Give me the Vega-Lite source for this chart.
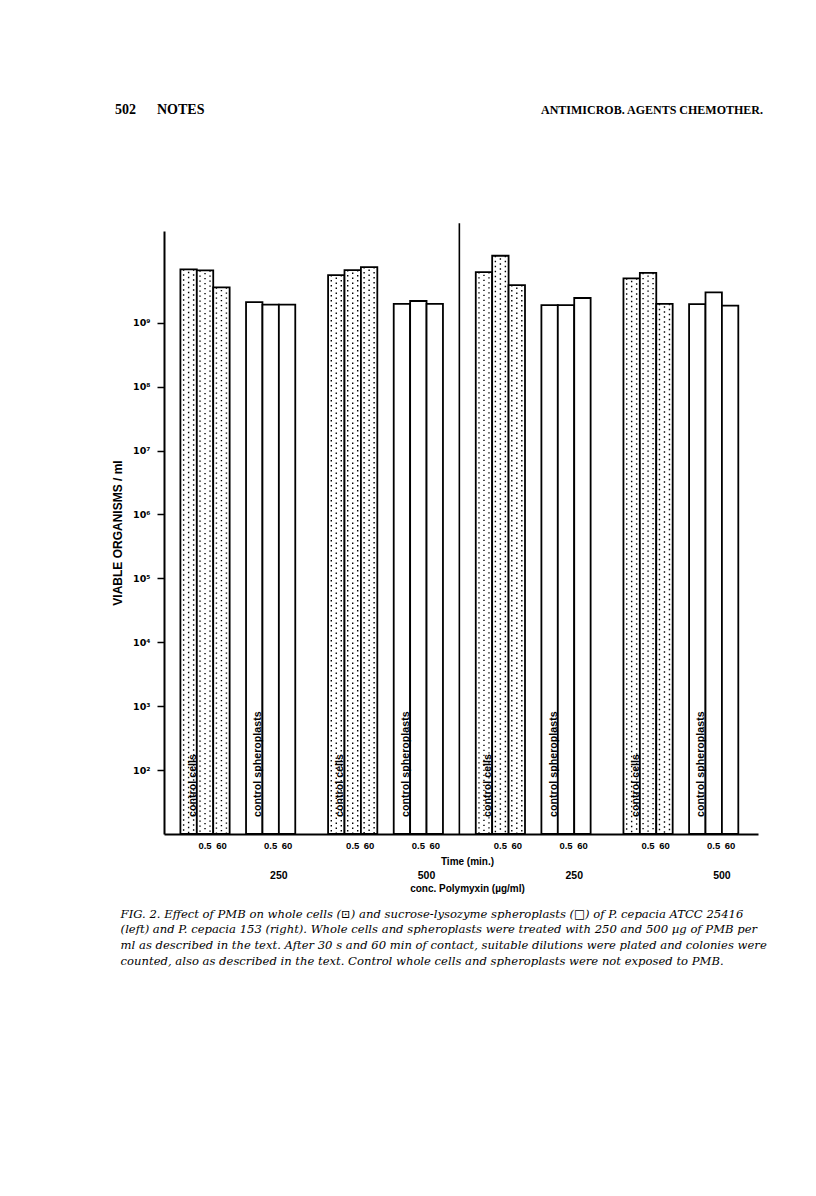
{
  "$schema": "https://vega.github.io/schema/vega-lite/v6.json",
  "background": "white",
  "padding": {"left": 111, "top": 102, "right": 10, "bottom": 10},
  "autosize": {"type": "pad"},
  "spacing": 104,
  "config": {"view": {"stroke": null}, "font": "Liberation Sans", "text": {"color": "black"}},
  "datasets": {
    "counts": [
      {"strain": "ATCC 25416", "conc": "250", "form": "cells", "time": "control", "value": 6.85e9},
      {"strain": "ATCC 25416", "conc": "250", "form": "cells", "time": "0.5", "value": 6.6e9},
      {"strain": "ATCC 25416", "conc": "250", "form": "cells", "time": "60", "value": 3.58e9},
      {"strain": "ATCC 25416", "conc": "250", "form": "spheroplasts", "time": "control", "value": 2.11e9},
      {"strain": "ATCC 25416", "conc": "250", "form": "spheroplasts", "time": "0.5", "value": 1.93e9},
      {"strain": "ATCC 25416", "conc": "250", "form": "spheroplasts", "time": "60", "value": 1.92e9},
      {"strain": "ATCC 25416", "conc": "500", "form": "cells", "time": "control", "value": 5.57e9},
      {"strain": "ATCC 25416", "conc": "500", "form": "cells", "time": "0.5", "value": 6.68e9},
      {"strain": "ATCC 25416", "conc": "500", "form": "cells", "time": "60", "value": 7.45e9},
      {"strain": "ATCC 25416", "conc": "500", "form": "spheroplasts", "time": "control", "value": 1.98e9},
      {"strain": "ATCC 25416", "conc": "500", "form": "spheroplasts", "time": "0.5", "value": 2.19e9},
      {"strain": "ATCC 25416", "conc": "500", "form": "spheroplasts", "time": "60", "value": 1.98e9},
      {"strain": "153", "conc": "250", "form": "cells", "time": "control", "value": 6.2e9},
      {"strain": "153", "conc": "250", "form": "cells", "time": "0.5", "value": 1.12e10},
      {"strain": "153", "conc": "250", "form": "cells", "time": "60", "value": 3.89e9},
      {"strain": "153", "conc": "250", "form": "spheroplasts", "time": "control", "value": 1.89e9},
      {"strain": "153", "conc": "250", "form": "spheroplasts", "time": "0.5", "value": 1.89e9},
      {"strain": "153", "conc": "250", "form": "spheroplasts", "time": "60", "value": 2.44e9},
      {"strain": "153", "conc": "500", "form": "cells", "time": "control", "value": 4.96e9},
      {"strain": "153", "conc": "500", "form": "cells", "time": "0.5", "value": 6.03e9},
      {"strain": "153", "conc": "500", "form": "cells", "time": "60", "value": 1.98e9},
      {"strain": "153", "conc": "500", "form": "spheroplasts", "time": "control", "value": 1.96e9},
      {"strain": "153", "conc": "500", "form": "spheroplasts", "time": "0.5", "value": 2.99e9},
      {"strain": "153", "conc": "500", "form": "spheroplasts", "time": "60", "value": 1.85e9}
    ]
  },
  "vconcat": [
    {
      "width": 599,
      "height": 16,
      "data": {"values": [
        {"side": "left", "text": "502\u2003\u2002NOTES"},
        {"side": "right", "text": "ANTIMICROB. AGENTS CHEMOTHER."}
      ]},
      "encoding": {
        "x": {"field": "side", "type": "nominal", "scale": {"type": "point", "domain": ["left", "right"], "padding": 0}, "axis": null},
        "text": {"field": "text"}
      },
      "layer": [
        {"transform": [{"filter": "datum.side == 'left'"}],
         "mark": {"type": "text", "align": "left", "baseline": "middle", "dx": -49, "font": "Liberation Serif", "fontSize": 14, "fontWeight": "bold", "color": "black"}},
        {"transform": [{"filter": "datum.side == 'right'"}],
         "mark": {"type": "text", "align": "right", "baseline": "middle", "font": "Liberation Serif", "fontSize": 12, "fontWeight": "bold", "color": "black"}}
      ]
    },
    {
      "width": 594,
      "height": 603,
      "data": {"name": "counts"},
      "transform": [{"calculate": "datum.strain + '|' + datum.conc + '|' + datum.form + '|' + datum.time", "as": "slot"}],
      "encoding": {
        "x": {
          "field": "slot", "type": "nominal",
          "scale": {
            "type": "band", "paddingInner": 0, "paddingOuter": 0.1, "align": 0,
            "domain": [
              "g0",
              "ATCC 25416|250|cells|control", "ATCC 25416|250|cells|0.5", "ATCC 25416|250|cells|60", "g1",
              "ATCC 25416|250|spheroplasts|control", "ATCC 25416|250|spheroplasts|0.5", "ATCC 25416|250|spheroplasts|60", "g2", "g3",
              "ATCC 25416|500|cells|control", "ATCC 25416|500|cells|0.5", "ATCC 25416|500|cells|60", "g4",
              "ATCC 25416|500|spheroplasts|control", "ATCC 25416|500|spheroplasts|0.5", "ATCC 25416|500|spheroplasts|60", "g5", "g6",
              "153|250|cells|control", "153|250|cells|0.5", "153|250|cells|60", "g7",
              "153|250|spheroplasts|control", "153|250|spheroplasts|0.5", "153|250|spheroplasts|60", "g8", "g9",
              "153|500|cells|control", "153|500|cells|0.5", "153|500|cells|60", "g10",
              "153|500|spheroplasts|control", "153|500|spheroplasts|0.5", "153|500|spheroplasts|60", "g11"
            ]
          },
          "axis": {
            "title": ["Time (min.)", "conc. Polymyxin (\u00b5g/ml)"],
            "labelExpr": "indexof(datum.value, '|') < 0 || peek(split(datum.value, '|')) == 'control' ? '' : peek(split(datum.value, '|'))",
            "labelAngle": 0, "labelOverlap": false, "labelBound": false,
            "ticks": false, "domainColor": "black", "domainWidth": 2,
            "labelFont": "Liberation Sans", "labelFontSize": 9.5, "labelFontWeight": "bold", "labelColor": "black", "labelPadding": 6,
            "titleFont": "Liberation Sans", "titleFontSize": 10, "titleFontWeight": "bold", "titleColor": "black", "titlePadding": 7, "titleLineHeight": 27,
            "titleX": 303
          }
        },
        "y": {
          "field": "value", "type": "quantitative",
          "scale": {"type": "log", "domain": [10, 2.73e10], "nice": false},
          "axis": {
            "title": "VIABLE ORGANISMS / ml",
            "values": [100, 1000, 10000, 100000, 1000000, 10000000, 100000000, 1000000000],
            "labelExpr": "'10' + ['\u2070','\u00b9','\u00b2','\u00b3','\u2074','\u2075','\u2076','\u2077','\u2078','\u2079'][round(log(datum.value)/LN10)]",
            "grid": false, "domainColor": "black", "domainWidth": 2,
            "tickColor": "black", "tickWidth": 1.5, "tickSize": 7,
            "labelFont": "DejaVu Sans", "labelFontSize": 9.5, "labelFontWeight": "bold", "labelColor": "black", "labelPadding": 7,
            "titleFont": "Liberation Sans", "titleFontSize": 12, "titleFontWeight": "bold", "titleColor": "black", "titlePadding": 8
          }
        }
      },
      "layer": [
        {"mark": {"type": "bar", "fill": "white", "stroke": "black", "strokeWidth": 1.8}, "encoding": {"y2": {"datum": 10}}},
        {"transform": [{"filter": "datum.form == 'cells'"}],
         "mark": {"type": "rule", "stroke": "black", "strokeWidth": 1.4, "strokeDash": [1.4, 3.6], "strokeCap": "butt", "xOffset": -5},
         "encoding": {"y2": {"datum": 10}}},
        {"transform": [{"filter": "datum.form == 'cells'"}],
         "mark": {"type": "rule", "stroke": "black", "strokeWidth": 1.4, "strokeDash": [1.4, 3.6], "strokeDashOffset": 2.5, "strokeCap": "butt", "xOffset": 0},
         "encoding": {"y2": {"datum": 10}}},
        {"transform": [{"filter": "datum.form == 'cells'"}],
         "mark": {"type": "rule", "stroke": "black", "strokeWidth": 1.4, "strokeDash": [1.4, 3.6], "strokeCap": "butt", "xOffset": 5},
         "encoding": {"y2": {"datum": 10}}},
        {"transform": [{"filter": "datum.time == 'control'"}, {"calculate": "'control ' + datum.form", "as": "label"}],
         "mark": {"type": "text", "angle": 270, "align": "left", "baseline": "middle", "dx": 17, "dy": 4, "font": "Liberation Sans", "fontSize": 10.7, "fontWeight": "bold", "color": "black"},
         "encoding": {"y": {"datum": 10}, "text": {"field": "label"}}},
        {"transform": [{"filter": "datum.form == 'spheroplasts' && datum.time == '0.5'"}],
         "mark": {"type": "text", "align": "center", "baseline": "middle", "font": "Liberation Sans", "fontSize": 10.5, "fontWeight": "bold", "color": "black"},
         "encoding": {"x": {"field": "slot", "type": "nominal", "bandPosition": 1}, "y": {"datum": 2.2}, "text": {"field": "conc"}}},
        {"transform": [{"filter": "datum.strain == '153' && datum.conc == '250' && datum.form == 'cells' && datum.time == 'control'"}],
         "mark": {"type": "rule", "stroke": "black", "strokeWidth": 1.6},
         "encoding": {"x": {"datum": "g6", "bandPosition": 0}, "y": {"datum": 10}, "y2": {"datum": 3.6e10}}}
      ],
      "title": {
        "text": [
          "\u2003FIG. 2. Effect of PMB on whole cells (\u22a1) and sucrose-lysozyme spheroplasts (\u25a1) of P. cepacia ATCC 25416",
          "(left) and P. cepacia 153 (right). Whole cells and spheroplasts were treated with 250 and 500 \u00b5g of PMB per",
          "ml as described in the text. After 30 s and 60 min of contact, suitable dilutions were plated and colonies were",
          "counted, also as described in the text. Control whole cells and spheroplasts were not exposed to PMB."
        ],
        "orient": "bottom", "anchor": "start", "frame": "bounds", "dx": 9, "offset": 15,
        "font": "DejaVu Serif", "fontSize": 11.6, "fontStyle": "italic", "fontWeight": "normal", "lineHeight": 15.8, "color": "black"
      }
    }
  ]
}
